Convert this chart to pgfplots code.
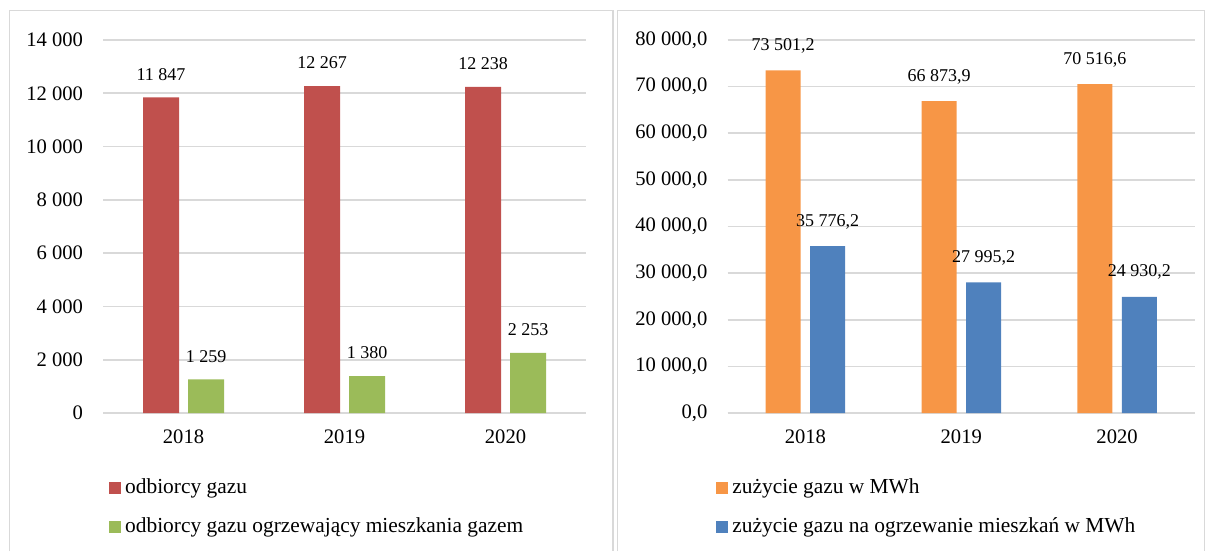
\documentclass[border=0pt]{standalone}
\usepackage{fontspec}
\setmainfont{Liberation Serif}
\usepackage{pgfplots}
\pgfplotsset{compat=1.18}

\definecolor{cRed}{HTML}{C0504D}
\definecolor{cGreen}{HTML}{9BBB59}
\definecolor{cOrange}{HTML}{F79646}
\definecolor{cBlue}{HTML}{4F81BD}
\definecolor{cGrid}{HTML}{D9D9D9}
\definecolor{cFrame}{HTML}{D9D9D9}

\pgfplotsset{
  panel/.style={
    scale only axis,
    height=186.5pt,
    xmin=-0.5, xmax=2.5,
    xtick={0,1,2}, xticklabels={2018,2019,2020},
    ymin=0,
    scaled y ticks=false,
    axis x line*=bottom, axis y line*=left,
    x axis line style={draw=cGrid, line width=0.8pt},
    y axis line style={draw=none},
    major tick length=0pt,
    ymajorgrids, grid style={draw=cGrid, line width=0.8pt},
    ticklabel style={font=\fontsize{10.3}{12}\selectfont},
    yticklabel style={xshift=-6.5pt},
    xticklabel style={yshift=-5pt},
    /pgf/number format/assume math mode=true,
    nodes near coords,
    every node near coord/.append style={font=\fontsize{9}{10}\selectfont, anchor=south, yshift=5pt, text=black},
    legend cell align=left,
    legend style={draw=none, fill=none, inner sep=0pt, anchor=north west,
      font=\fontsize{10.7}{12}\selectfont, row sep=8.5pt,
      nodes={inner xsep=2pt, inner ysep=1pt, text height=7pt, text depth=2pt}},
  },
  sqlegend/.style={legend image code/.code={\fill[##1] (0pt,-3pt) rectangle (6pt,3pt);}},
}

\begin{document}
\begin{tikzpicture}
\path[use as bounding box] (0,0) rectangle (604pt,275.5pt);
% panel frames
\draw[cFrame, line width=0.8pt] (4.75pt,0pt) -- (4.75pt,270.25pt) -- (306.5pt,270.25pt) -- (306.5pt,0pt);
\draw[cFrame, line width=0.8pt] (308.75pt,0pt) -- (308.75pt,270.25pt) -- (602.25pt,270.25pt) -- (602.25pt,0pt);

\begin{axis}[panel,
  at={(51.5pt,69pt)}, anchor=south west,
  width=241.5pt,
  ymax=14000, ytick={0,2000,...,14000},
  /pgf/number format/.cd, fixed, 1000 sep={\ },
  /pgfplots/.cd,
  ybar=4.5pt, bar width=18pt, sqlegend,
  legend style={at={(0.012,-0.1716)}},
]
\addplot[fill=cRed, draw=none] coordinates {(0,11847) (1,12267) (2,12238)};
\addplot[fill=cGreen, draw=none] coordinates {(0,1259) (1,1380) (2,2253)};
\legend{odbiorcy gazu, odbiorcy gazu ogrzewający mieszkania gazem}
\end{axis}

\begin{axis}[panel,
  at={(363.75pt,69pt)}, anchor=south west,
  width=233.75pt,
  ymax=80000, ytick={0,10000,...,80000},
  /pgf/number format/.cd, fixed, fixed zerofill, precision=1, use comma, 1000 sep={\ },
  /pgfplots/.cd,
  ybar=4.75pt, bar width=17.5pt, sqlegend,
  legend style={at={(-0.0246,-0.1716)}},
]
\addplot[fill=cOrange, draw=none] coordinates {(0,73501.2) (1,66873.9) (2,70516.6)};
\addplot[fill=cBlue, draw=none] coordinates {(0,35776.2) (1,27995.2) (2,24930.2)};
\legend{zużycie gazu w MWh, zużycie gazu na ogrzewanie mieszkań w MWh}
\end{axis}
\end{tikzpicture}
\end{document}
